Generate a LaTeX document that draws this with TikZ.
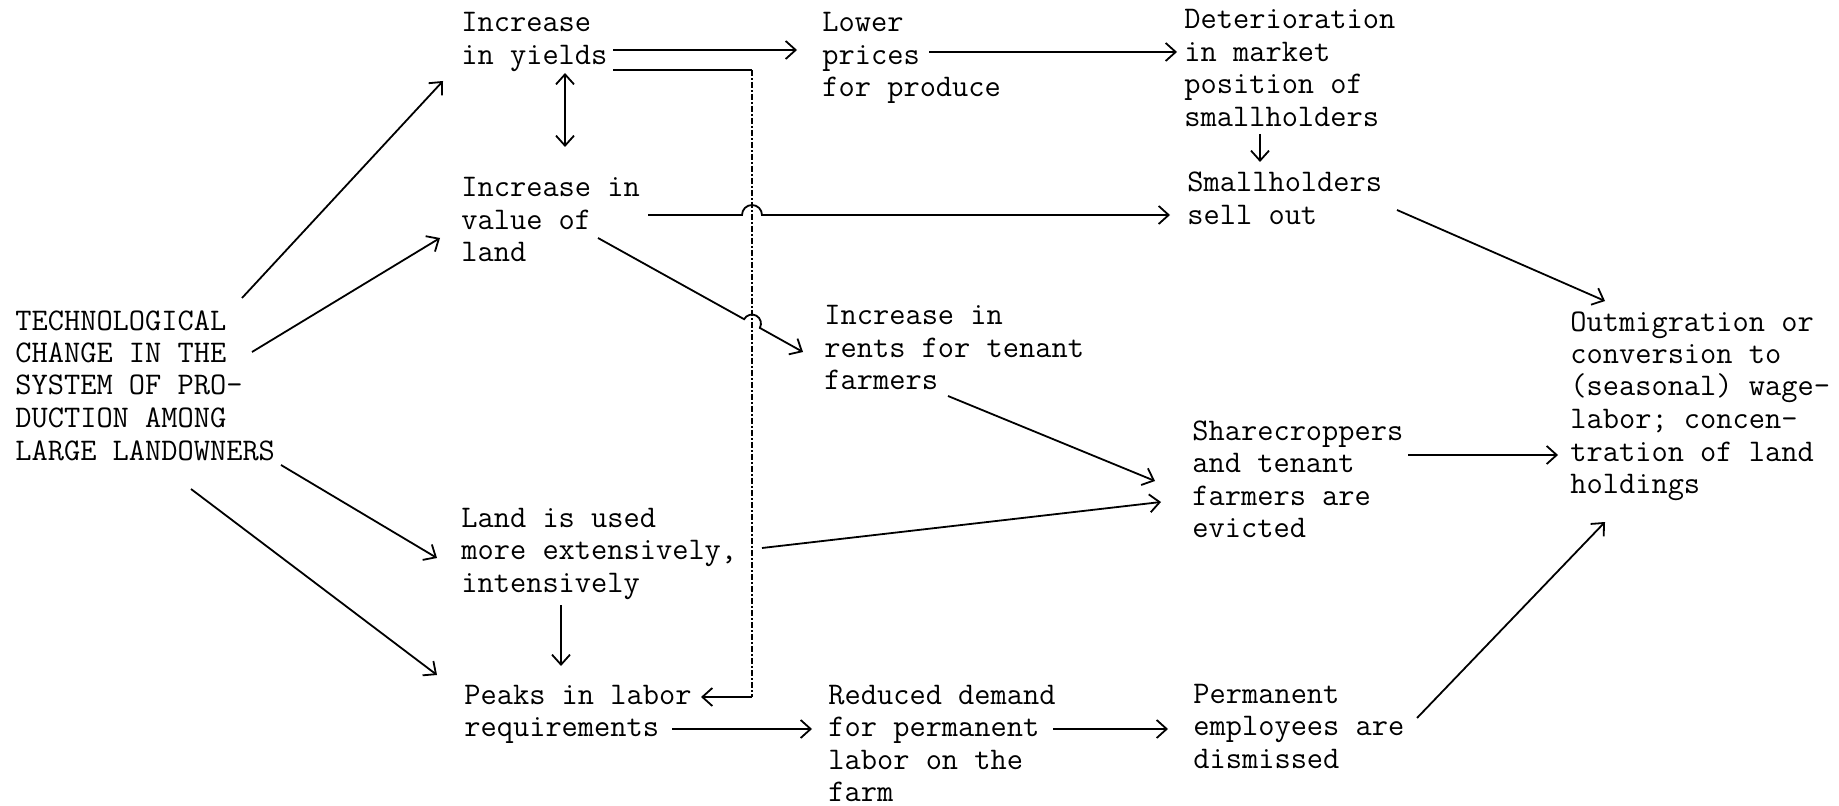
\documentclass[tikz,border=0pt]{standalone}
\usepackage{fontspec}
\usetikzlibrary{arrows.meta,calc}
\tikzset{
  txt/.style={anchor=base west, inner sep=0pt, align=left, font=\ttfamily\fontsize{15.75pt}{16.25pt}\selectfont},
  conn/.style={line width=0.9pt},
  arr/.style={conn, -{Straight Barb[length=5pt,width=9pt,line width=0.9pt]}},
  darr/.style={conn, {Straight Barb[length=5pt,width=9pt,line width=0.9pt]}-{Straight Barb[length=5pt,width=9pt,line width=0.9pt]}},
  dd/.style={line width=0.55pt, dash pattern=on 3pt off 1.2pt on 0.6pt off 1.2pt}
}
\begin{document}
\begin{tikzpicture}[x=0.5pt,y=-0.5pt]
\useasboundingbox[fill=white] (0,0) rectangle (1839,806);
% nodes (anchored at the baseline of their last line)
\node[txt] (tech) at (15,460) {TECHNOLOGICAL\\CHANGE IN THE\\SYSTEM OF PRO-\\DUCTION AMONG\\LARGE LANDOWNERS};
\node[txt] (yields) at (461,64.5) {Increase\\in yields};
\node[txt] (value) at (461,262) {Increase in\\value of\\land};
\node[txt] (land) at (461,592) {Land is used\\more extensively,\\intensively};
\node[txt] (peaks) at (464,736.5) {Peaks in labor\\requirements};
\node[txt] (lower) at (822,97) {Lower\\prices\\for produce};
\node[txt] (rents) at (824,390) {Increase in\\rents for tenant\\farmers};
\node[txt] (reduced) at (828,801.5) {Reduced demand\\for permanent\\labor on the\\farm};
\node[txt] (deter) at (1184,126.5) {Deterioration\\in market\\position of\\smallholders};
\node[txt] (sell) at (1187,224.5) {Smallholders\\sell out};
\node[txt] (share) at (1192,537.5) {Sharecroppers\\and tenant\\farmers are\\evicted};
\node[txt] (perm) at (1193,768) {Permanent\\employees are\\dismissed};
\node[txt] (out) at (1570,493.5) {Outmigration or\\conversion to\\(seasonal) wage-\\labor; concen-\\tration of land\\holdings};
% connector end points
\coordinate (tech-a) at (242,298);  \coordinate (yields-in) at (443,81);
\coordinate (tech-b) at (252,352);  \coordinate (value-in) at (440,238);
\coordinate (tech-c) at (281,465);  \coordinate (land-in) at (437,558);
\coordinate (tech-d) at (191,489);  \coordinate (peaks-in) at (437,675);
\coordinate (yields-a) at (613,50); \coordinate (lower-in) at (797,50);
\coordinate (yields-b) at (613,70); \coordinate (c1) at (752,70);
\coordinate (c2) at (752,697);      \coordinate (peaks-in2) at (701,697);
\coordinate (yields-c) at (565,73); \coordinate (value-top) at (565,147);
\coordinate (value-a) at (648,215); \coordinate (sell-in) at (1170,215);
\coordinate (value-b) at (598,238); \coordinate (rents-in) at (803,352);
\coordinate (lower-a) at (929,52);  \coordinate (deter-in) at (1177,52);
\coordinate (deter-a) at (1260,134); \coordinate (sell-top) at (1260,162);
\coordinate (sell-a) at (1397,210); \coordinate (out-in1) at (1605,301);
\coordinate (rents-a) at (948,396); \coordinate (share-in1) at (1155,481);
\coordinate (land-a) at (762,548);  \coordinate (share-in2) at (1161,502);
\coordinate (share-a) at (1408,455); \coordinate (out-in2) at (1558,455);
\coordinate (perm-a) at (1417,718); \coordinate (out-in3) at (1605,522);
\coordinate (land-b) at (561,605);  \coordinate (peaks-top) at (561,666);
\coordinate (peaks-a) at (672,729); \coordinate (reduced-in) at (812,729);
\coordinate (reduced-a) at (1053,729); \coordinate (perm-in) at (1168,729);
% connectors
\draw[arr] (tech-a) -- (yields-in);
\draw[arr] (tech-b) -- (value-in);
\draw[arr] (tech-c) -- (land-in);
\draw[arr] (tech-d) -- (peaks-in);
\draw[arr] (yields-a) -- (lower-in);
\draw[conn] (yields-b) -- (c1);
\draw[dd] (c1) -- (c2);
\draw[arr] (c2) -- (peaks-in2);
\draw[darr] (yields-c) -- (value-top);
\draw[arr] (value-a) -- (742,215) arc[start angle=180,end angle=360,radius=10] -- (sell-in);
\draw[arr] (value-b) -- (744.1,319.2) arc[start angle=209,end angle=389,radius=9] -- (rents-in);
\draw[arr] (lower-a) -- (deter-in);
\draw[arr] (deter-a) -- (sell-top);
\draw[arr] (sell-a) -- (out-in1);
\draw[arr] (rents-a) -- (share-in1);
\draw[arr] (land-a) -- (share-in2);
\draw[arr] (share-a) -- (out-in2);
\draw[arr] (perm-a) -- (out-in3);
\draw[arr] (land-b) -- (peaks-top);
\draw[arr] (peaks-a) -- (reduced-in);
\draw[arr] (reduced-a) -- (perm-in);
\end{tikzpicture}
\end{document}
